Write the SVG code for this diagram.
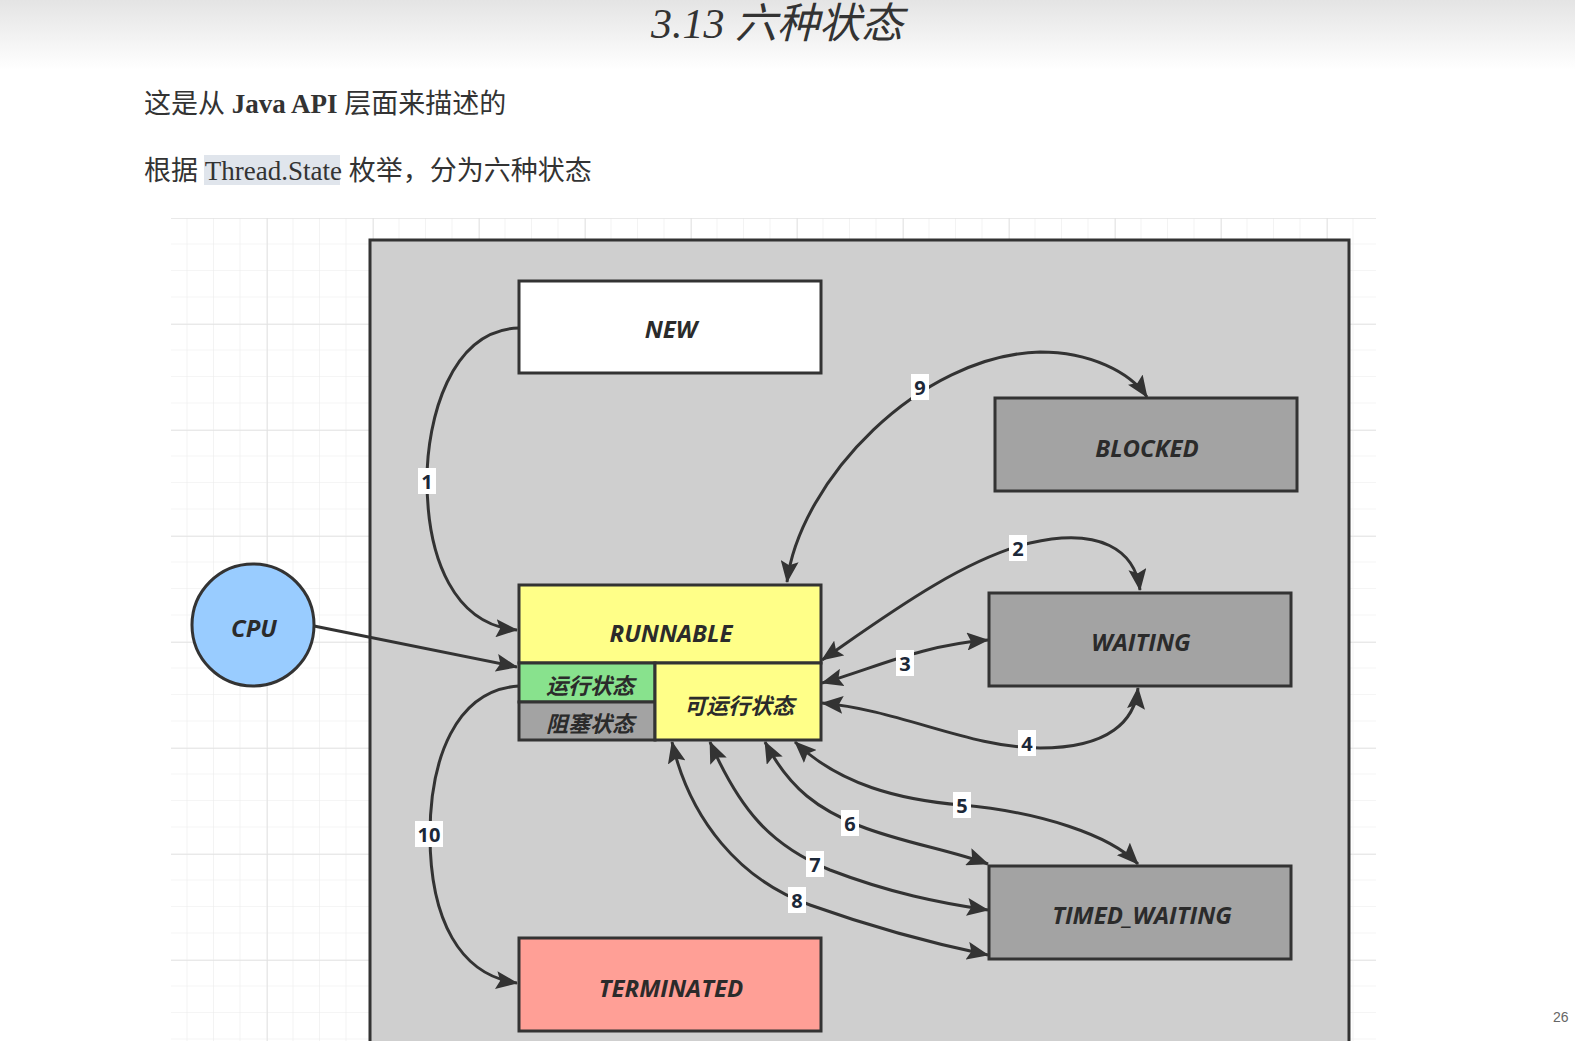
<svg xmlns="http://www.w3.org/2000/svg" width="1575" height="1041" viewBox="0 0 1575 1041">
<defs>
  <linearGradient id="hdr" x1="0" y1="0" x2="0" y2="1">
    <stop offset="0" stop-color="#e4e4e4"/>
    <stop offset="1" stop-color="#ffffff"/>
  </linearGradient>
  <pattern id="minor" x="161" y="218" width="26.5" height="26.5" patternUnits="userSpaceOnUse">
    <path d="M26.5,0 V26.5 M0,26.5 H26.5" fill="none" stroke="#ececec" stroke-width="1.2"/>
  </pattern>
  <pattern id="major" x="161" y="218" width="106" height="106" patternUnits="userSpaceOnUse">
    <path d="M0,0 V106 M0,0 H106" fill="none" stroke="#e2e2e2" stroke-width="1.5"/>
  </pattern>
  <marker id="ah" viewBox="0 0 22 18" refX="21" refY="9" markerWidth="22" markerHeight="18" markerUnits="userSpaceOnUse" orient="auto-start-reverse">
    <path d="M0,0 L22,9 L0,18 L4,9 z" fill="#333"/>
  </marker>
</defs>
<style>
  .node rect, .node circle { stroke:#333; stroke-width:3; }
  .nl { font-family:"Open Sans","Noto Sans",sans-serif; font-weight:700; font-style:italic; font-size:24px; fill:#2b2b2b; text-anchor:middle; dominant-baseline:central; }
  .cl { font-family:"Noto Sans CJK SC",sans-serif; font-weight:700; font-style:italic; font-size:22px; fill:#2b2b2b; text-anchor:middle; dominant-baseline:central; }
  .edge { fill:none; stroke:#333; stroke-width:3; }
  .lb rect { fill:#fff; }
  .lb text { font-family:"Open Sans","Noto Sans",sans-serif; font-weight:700; font-size:20px; fill:#1c2838; text-anchor:middle; dominant-baseline:central; }
  .body { font-family:"Liberation Serif","Noto Sans CJK SC",serif; font-size:27px; fill:#333; }
</style>

<rect x="0" y="0" width="1575" height="1041" fill="#fff"/>
<rect x="0" y="0" width="1575" height="70" fill="url(#hdr)"/>
<text x="777" y="38" text-anchor="middle" font-family="Liberation Serif, Noto Sans CJK SC, serif" font-style="italic" font-size="42" fill="#333">3.13 六种状态</text>

<text class="body" x="144" y="113">这是从 <tspan font-weight="700">Java API</tspan> 层面来描述的</text>
<rect x="204" y="155" width="136" height="30" fill="#e0e5ec"/>
<text class="body" x="144" y="180">根据 Thread.State 枚举，分为六种状态</text>

<text x="1553" y="1022" font-family="Liberation Sans, sans-serif" font-size="14" fill="#666">26</text>

<!-- grid -->
<rect x="171" y="218" width="1205" height="823" fill="url(#minor)"/>
<rect x="171" y="218" width="1205" height="823" fill="url(#major)"/>

<!-- container -->
<rect x="370" y="240" width="979" height="830" fill="#cfcfcf" stroke="#333" stroke-width="3"/>

<g id="connectors">
  <path class="edge" marker-end="url(#ah)" d="M519,328 C450,330 427,420 427,480 C427,560 455,625 517,630"/>
  <path class="edge" marker-end="url(#ah)" d="M314,626 L517,667"/>
  <path class="edge" marker-end="url(#ah)" d="M519,686 C455,690 430,760 430,835 C430,920 460,975 517,983"/>
  <path class="edge" marker-start="url(#ah)" marker-end="url(#ah)" d="M787,582 C800,480 920,355 1040,352 C1090,352 1130,372 1147,397"/>
  <path class="edge" marker-start="url(#ah)" marker-end="url(#ah)" d="M822,660 C880,620 960,560 1030,543 C1100,527 1135,550 1140,590"/>
  <path class="edge" marker-start="url(#ah)" marker-end="url(#ah)" d="M822,683 C870,670 920,645 988,640"/>
  <path class="edge" marker-start="url(#ah)" marker-end="url(#ah)" d="M822,703 C900,710 970,748 1040,748 C1110,748 1135,720 1138,688"/>
  <path class="edge" marker-start="url(#ah)" marker-end="url(#ah)" d="M795,742 C840,785 900,800 962,805 C1040,812 1110,835 1138,864"/>
  <path class="edge" marker-start="url(#ah)" marker-end="url(#ah)" d="M765,742 C790,790 820,810 860,826 C900,842 950,850 988,864"/>
  <path class="edge" marker-start="url(#ah)" marker-end="url(#ah)" d="M710,742 C740,810 770,845 830,870 C890,893 940,903 988,910"/>
  <path class="edge" marker-start="url(#ah)" marker-end="url(#ah)" d="M672,742 C690,820 740,880 810,905 C880,930 940,945 988,955"/>
  <g class="lb">
    <rect x="418" y="468" width="18" height="26"/><text x="427" y="481">1</text>
    <rect x="1009" y="535" width="18" height="26"/><text x="1018" y="548">2</text>
    <rect x="896" y="650" width="18" height="26"/><text x="905" y="663">3</text>
    <rect x="1018" y="730" width="18" height="26"/><text x="1027" y="743">4</text>
    <rect x="953" y="792" width="18" height="26"/><text x="962" y="805">5</text>
    <rect x="841" y="810" width="18" height="26"/><text x="850" y="823">6</text>
    <rect x="806" y="851" width="18" height="26"/><text x="815" y="864">7</text>
    <rect x="788" y="887" width="18" height="26"/><text x="797" y="900">8</text>
    <rect x="911" y="374" width="18" height="26"/><text x="920" y="387">9</text>
    <rect x="415" y="821" width="28" height="26"/><text x="429" y="834">10</text>
  </g>
</g>

<g id="cpu" class="node">
  <circle cx="253" cy="625" r="61" fill="#99ccff"/>
  <text class="nl" x="254" y="627">CPU</text>
</g>
<g id="new" class="node">
  <rect x="519" y="281" width="302" height="92" fill="#ffffff"/>
  <text class="nl" x="671" y="328">NEW</text>
</g>
<g id="blocked" class="node">
  <rect x="995" y="398" width="302" height="93" fill="#a3a3a3"/>
  <text class="nl" x="1147" y="447">BLOCKED</text>
</g>
<g id="waiting" class="node">
  <rect x="989" y="593" width="302" height="93" fill="#a3a3a3"/>
  <text class="nl" x="1141" y="641">WAITING</text>
</g>
<g id="timed_waiting" class="node">
  <rect x="989" y="866" width="302" height="93" fill="#a3a3a3"/>
  <text class="nl" x="1142" y="914">TIMED_WAITING</text>
</g>
<g id="terminated" class="node">
  <rect x="519" y="938" width="302" height="93" fill="#ff9f96"/>
  <text class="nl" x="671" y="987">TERMINATED</text>
</g>
<g id="runnable" class="node">
  <rect x="519" y="585" width="302" height="78" fill="#ffff88"/>
  <text class="nl" x="671" y="632">RUNNABLE</text>
  <rect x="519" y="663" width="136" height="39" fill="#88e28d"/>
  <text class="cl" x="590" y="684">运行状态</text>
  <rect x="519" y="702" width="136" height="38" fill="#a3a3a3"/>
  <text class="cl" x="590" y="722">阻塞状态</text>
  <rect x="655" y="663" width="166" height="77" fill="#ffff88"/>
  <text class="cl" x="739" y="704">可运行状态</text>
</g>
</svg>
